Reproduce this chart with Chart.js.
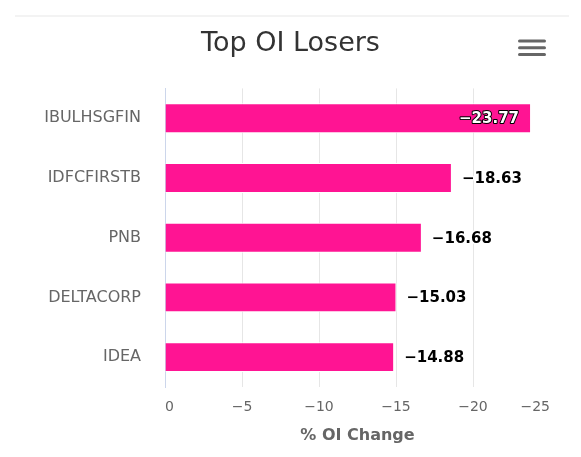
<!DOCTYPE html>
<html>
<head>
<meta charset="utf-8">
<script src="https://cdn.jsdelivr.net/npm/chart.js@4/dist/chart.umd.min.js"></script>
<style>
  html, body { margin: 0; padding: 0; background: #ffffff; }
  #c { display: block; }
</style>
</head>
<body>
<canvas id="c" width="581" height="457"></canvas>
<script>
const categories = ['IBULHSGFIN', 'IDFCFIRSTB', 'PNB', 'DELTACORP', 'IDEA'];
const oiChange = [-23.77, -18.63, -16.68, -15.03, -14.88];
const xTickValues = [-25, -20, -15, -10, -5, 0];

const FONT = "'DejaVu Sans', Verdana, sans-serif";
const fmtTick = v => (v < 0 ? '\u2212' : '') + Math.abs(v);
const fmtVal = v => (v < 0 ? '\u2212' : '') + Math.abs(v).toFixed(2);

const decorPlugin = {
  id: 'decor',
  beforeDraw(chart) {
    const ctx = chart.ctx;
    ctx.save();
    ctx.fillStyle = '#ffffff';
    ctx.fillRect(0, 0, chart.width, chart.height);
    ctx.strokeStyle = '#f3f3f3';
    ctx.lineWidth = 2;
    ctx.beginPath();
    ctx.moveTo(15, 16);
    ctx.lineTo(569, 16);
    ctx.stroke();
    ctx.restore();
  },
  afterDraw(chart) {
    const ctx = chart.ctx;
    ctx.save();
    ctx.strokeStyle = '#666666';
    ctx.lineWidth = 3;
    ctx.lineCap = 'round';
    [41, 47.8, 54.5].forEach(y => {
      ctx.beginPath();
      ctx.moveTo(519.5, y);
      ctx.lineTo(544.5, y);
      ctx.stroke();
    });
    ctx.restore();
  }
};

const dataLabelPlugin = {
  id: 'barLabels',
  afterDatasetsDraw(chart) {
    const ctx = chart.ctx;
    const meta = chart.getDatasetMeta(0);
    ctx.save();
    ctx.font = 'bold 15px ' + FONT;
    ctx.textBaseline = 'middle';
    ctx.lineJoin = 'round';
    meta.data.forEach((bar, i) => {
      const txt = fmtVal(oiChange[i]);
      const w = ctx.measureText(txt).width;
      let x = bar.x + 10;
      const y = bar.y + 1;
      if (x + w > chart.chartArea.right) {
        x = bar.x - 12;
        ctx.textAlign = 'right';
        ctx.lineWidth = 2;
        ctx.strokeStyle = '#000000';
        ctx.strokeText(txt, x, y);
        ctx.fillStyle = '#ffffff';
        ctx.fillText(txt, x, y);
      } else {
        ctx.textAlign = 'left';
        ctx.lineWidth = 3;
        ctx.strokeStyle = '#ffffff';
        ctx.strokeText(txt, x, y);
        ctx.fillStyle = '#000000';
        ctx.fillText(txt, x, y);
      }
    });
    ctx.restore();
  }
};

new Chart(document.getElementById('c'), {
  type: 'bar',
  data: {
    labels: categories,
    datasets: [{
      data: oiChange,
      backgroundColor: '#ff1493',
      borderColor: '#ffffff',
      borderWidth: 1,
      categoryPercentage: 1,
      barPercentage: 0.5
    }]
  },
  options: {
    indexAxis: 'y',
    responsive: false,
    devicePixelRatio: 1,
    animation: false,
    layout: { padding: { top: 0, right: 0, bottom: 12, left: 0 } },
    plugins: {
      legend: { display: false },
      tooltip: { enabled: false },
      title: {
        display: true,
        text: 'Top OI Losers',
        color: '#333333',
        font: { family: FONT, size: 27, weight: 'normal' },
        padding: { top: 28, bottom: 28 }
      }
    },
    scales: {
      x: {
        type: 'linear',
        min: -25,
        max: 0,
        reverse: true,
        afterBuildTicks: s => { s.ticks = xTickValues.map(v => ({ value: v })); },
        ticks: {
          callback: v => fmtTick(v),
          align: 'inner',
          padding: 12,
          color: '#666666',
          font: { family: FONT, size: 14 },
          maxRotation: 0,
          autoSkip: false
        },
        grid: {
          color: c => (c.tick && (c.tick.value === -25 || c.tick.value === 0)) ? 'rgba(0,0,0,0)' : '#e6e6e6',
          drawTicks: false,
          lineWidth: 1
        },
        border: { display: false },
        title: {
          display: true,
          text: '% OI Change',
          color: '#666666',
          font: { family: FONT, size: 16, weight: 'bold' },
          padding: { top: -2, bottom: 0 }
        }
      },
      y: {
        type: 'category',
        afterFit: s => { s.width = 165; },
        ticks: {
          color: '#666666',
          font: { family: FONT, size: 16 },
          padding: 24
        },
        grid: { display: false, drawTicks: false },
        border: { display: true, color: '#ccd6eb', width: 1 }
      },
      yRight: {
        type: 'category',
        position: 'right',
        afterFit: s => { s.width = 31; },
        ticks: { display: false },
        grid: { display: false, drawTicks: false },
        border: { display: false }
      }
    }
  },
  plugins: [decorPlugin, dataLabelPlugin]
});
</script>
</body>
</html>
